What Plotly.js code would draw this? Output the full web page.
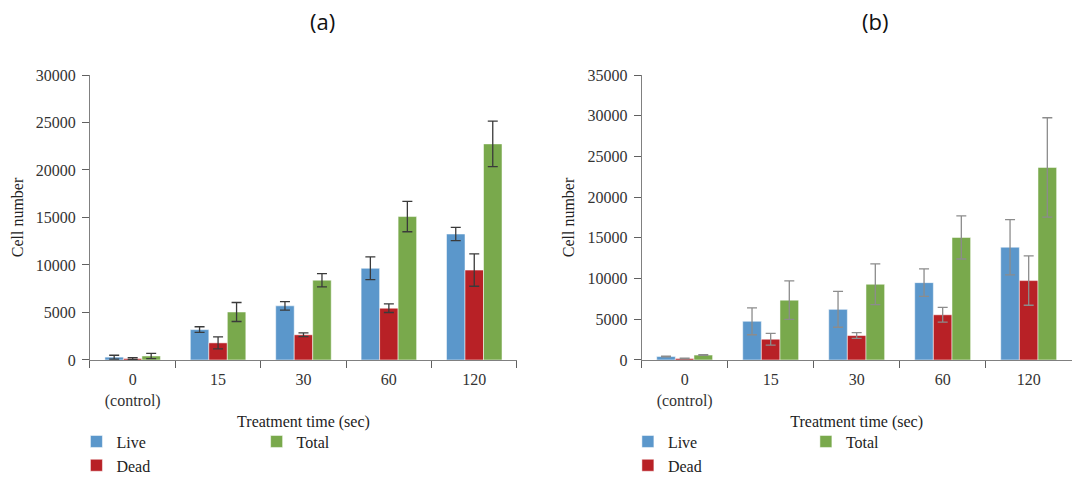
<!DOCTYPE html>
<html>
<head>
<meta charset="utf-8">
<script src="https://cdn.plot.ly/plotly-3.0.1.min.js"></script>
<style>html,body{margin:0;padding:0;background:#fff;}#chart{width:1092px;height:483px;}</style>
</head>
<body>
<div id="chart"></div>
<script>
// Category labels
const categories = ["0<br>(control)", "15", "30", "60", "120"];

// Panel (a)
const liveA = [300, 3200, 5700, 9650, 13260];
const liveErrA = [200, 300, 450, 1200, 700];
const deadA = [150, 1800, 2650, 5450, 9460];
const deadErrA = [100, 640, 200, 450, 1700];
const totalA = [420, 5050, 8400, 15100, 22750];
const totalErrA = [280, 1000, 700, 1600, 2400];

// Panel (b)
const liveB = [420, 4750, 6220, 9500, 13850];
const liveErrB = [40, 1650, 2200, 1700, 3400];
const deadB = [180, 2550, 3000, 5550, 9750];
const deadErrB = [30, 720, 350, 900, 3030];
const totalB = [600, 7350, 9300, 15050, 23650];
const totalErrB = [40, 2370, 2500, 2650, 6100];

const colLive = '#5b97cb', colDead = '#b82126', colTotal = '#79a94c';
const serif = '"Liberation Serif", "Times New Roman", serif';

function bar(name, y, err, color, xa, ya, legend, rank, errColor) {
  return {
    type: 'bar', name: name, x: categories, y: y,
    xaxis: xa, yaxis: ya, legend: legend, legendrank: rank, showlegend: true,
    marker: {color: color, line: {color: 'rgba(255,255,255,0.5)', width: 1}},
    error_y: {type: 'data', array: err, visible: true, color: errColor, thickness: 1.3, width: 5},
    hoverinfo: 'skip'
  };
}

const eA = '#3a3a3a', eB = '#8c8c8c';
const data = [
  bar('Live', liveA, liveErrA, colLive, 'x', 'y', 'legend', 1, eA),
  bar('Dead', deadA, deadErrA, colDead, 'x', 'y', 'legend', 2, eA),
  bar('Total', totalA, totalErrA, colTotal, 'x', 'y', 'legend2', 3, eA),
  bar('Live', liveB, liveErrB, colLive, 'x2', 'y2', 'legend3', 1, eB),
  bar('Dead', deadB, deadErrB, colDead, 'x2', 'y2', 'legend3', 2, eB),
  bar('Total', totalB, totalErrB, colTotal, 'x2', 'y2', 'legend4', 3, eB)
];

const tickFont = {family: serif, size: 16, color: '#333'};
const titleFont = {family: serif, size: 16, color: '#222'};

function xax(domain, anchor) {
  return {
    domain: domain, anchor: anchor, type: 'category', automargin: false,
    showline: true, linecolor: '#808080', linewidth: 1,
    ticks: 'outside', tickson: 'boundaries', ticklen: 7, tickcolor: '#606060',
    ticklabelstandoff: 5,
    tickfont: tickFont, showgrid: false, zeroline: false,
    title: {text: 'Treatment time (sec)', font: titleFont, standoff: 6},
    fixedrange: true
  };
}
function yax(domain, anchor, max) {
  return {
    domain: domain, anchor: anchor, range: [0, max], dtick: 5000, tick0: 0,
    tickformat: 'd', automargin: false,
    showline: true, linecolor: '#808080', linewidth: 1,
    ticks: 'outside', ticklen: 7, tickcolor: '#606060',
    ticklabelstandoff: 3,
    tickfont: tickFont, showgrid: false, zeroline: false,
    title: {text: 'Cell number', font: titleFont, standoff: 8},
    fixedrange: true
  };
}

const legBase = {orientation: 'v', font: {family: serif, size: 16, color: '#222'}, bgcolor: 'rgba(0,0,0,0)',
  xref: 'paper', yref: 'paper', yanchor: 'top', xanchor: 'left', tracegroupgap: 0};

const layout = {
  width: 1092, height: 483,
  margin: {l: 0, r: 0, t: 0, b: 0},
  paper_bgcolor: '#fff', plot_bgcolor: '#fff',
  barmode: 'group', bargap: 0.35, bargroupgap: 0,
  xaxis: xax([0.0824, 0.4734], 'y'),
  yaxis: yax([0.2547, 0.8447], 'x', 30000),
  xaxis2: xax([0.5876, 0.9814], 'y2'),
  yaxis2: yax([0.2547, 0.8447], 'x2', 35000),
  legend: Object.assign({}, legBase, {x: 0.070, y: 0.121}),
  legend2: Object.assign({}, legBase, {x: 0.235, y: 0.121}),
  legend3: Object.assign({}, legBase, {x: 0.575, y: 0.121}),
  legend4: Object.assign({}, legBase, {x: 0.738, y: 0.121}),
  annotations: [
    {text: '(a)', xref: 'paper', yref: 'paper', x: 322/1092, y: 1 - 21/483, xanchor: 'center', yanchor: 'middle', showarrow: false, font: {family: 'Open Sans, sans-serif', size: 22, color: '#111'}},
    {text: '(b)', xref: 'paper', yref: 'paper', x: 875/1092, y: 1 - 21/483, xanchor: 'center', yanchor: 'middle', showarrow: false, font: {family: 'Open Sans, sans-serif', size: 22, color: '#111'}}
  ]
};

Plotly.newPlot('chart', data, layout, {displayModeBar: false, staticPlot: true});
</script>
</body>
</html>
